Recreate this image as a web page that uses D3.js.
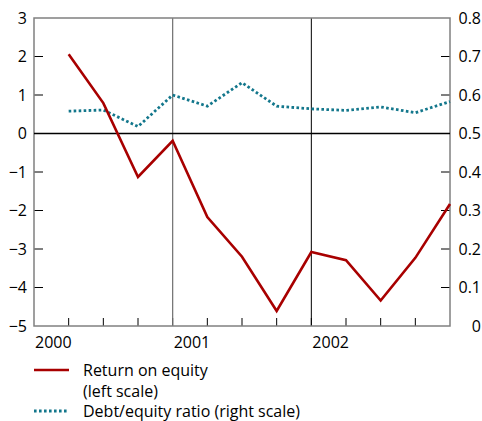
<!DOCTYPE html>
<html>
<head>
<meta charset="utf-8">
<script src="https://cdn.jsdelivr.net/npm/d3@7"></script>
<style>
  body { margin: 0; background: #fff; }
  svg { display: block; font-family: "Open Sans", sans-serif; }
</style>
</head>
<body>
<svg id="chart"></svg>
<script>
const quarters = ["2000Q1", "2000Q2", "2000Q3", "2000Q4", "2001Q1", "2001Q2", "2001Q3", "2001Q4", "2002Q1", "2002Q2", "2002Q3", "2002Q4"];
const returnOnEquity = [2.06, 0.79, -1.13, -0.19, -2.17, -3.2, -4.61, -3.08, -3.29, -4.34, -3.23, -1.83];
const debtEquity = [0.558, 0.561, 0.518, 0.6, 0.571, 0.632, 0.571, 0.564, 0.56, 0.569, 0.554, 0.583];
const years = ["2000", "2001", "2002"];
const leftTicks = [-5, -4, -3, -2, -1, 0, 1, 2, 3];
const rightTicks = [0, 0.1, 0.2, 0.3, 0.4, 0.5, 0.6, 0.7, 0.8];

const width = 482, height = 421;
const plotL = 34, plotR = 450, plotT = 18, plotB = 326;
const red = "#a80000", teal = "#13778c", grey = "#808080";

const svg = d3.select("#chart").attr("width", width).attr("height", height);

// quarter index -> x, the plot starts one quarter before the first point
const x = d3.scaleLinear().domain([-1, quarters.length - 1]).range([plotL, plotR]);
const yl = d3.scaleLinear().domain([-5, 3]).range([plotB, plotT]);
const yr = d3.scaleLinear().domain([0, 0.8]).range([plotB, plotT]);

const fmt = d => d < 0 ? "\u2212" + Math.abs(d) : String(d);

// inner ticks on left and right
svg.append("g").selectAll("line")
    .data(leftTicks.filter(d => d > -5 && d < 3))
    .join("line")
    .attr("x1", plotL).attr("x2", plotL + 9)
    .attr("y1", d => yl(d)).attr("y2", d => yl(d))
    .attr("stroke", "#000").attr("stroke-width", 1);

svg.append("g").selectAll("line")
    .data(rightTicks.filter(d => d > 0 && d < 0.8))
    .join("line")
    .attr("x1", plotR - 9).attr("x2", plotR)
    .attr("y1", d => yr(d)).attr("y2", d => yr(d))
    .attr("stroke", "#000").attr("stroke-width", 1);

// bottom quarter ticks
svg.append("g").selectAll("line")
    .data(d3.range(0, quarters.length - 1))
    .join("line")
    .attr("x1", d => x(d)).attr("x2", d => x(d))
    .attr("y1", plotB).attr("y2", plotB - 8)
    .attr("stroke", "#000").attr("stroke-width", 1);

// year dividers
svg.append("line")
    .attr("x1", x(3)).attr("x2", x(3)).attr("y1", plotT).attr("y2", plotB)
    .attr("stroke", "#6f6f6f").attr("stroke-width", 1.2);
svg.append("line")
    .attr("x1", x(7)).attr("x2", x(7)).attr("y1", plotT).attr("y2", plotB)
    .attr("stroke", "#000").attr("stroke-width", 1);

// frame
svg.append("rect")
    .attr("x", plotL).attr("y", plotT)
    .attr("width", plotR - plotL).attr("height", plotB - plotT)
    .attr("fill", "none").attr("stroke", grey).attr("stroke-width", 1.5);

// zero line
svg.append("line")
    .attr("x1", plotL).attr("x2", plotR)
    .attr("y1", yl(0)).attr("y2", yl(0))
    .attr("stroke", "#000").attr("stroke-width", 1.5);

// tick labels
svg.append("g").selectAll("text")
    .data(leftTicks)
    .join("text")
    .attr("x", 27).attr("y", d => yl(d))
    .attr("dy", "0.35em")
    .attr("text-anchor", "end")
    .style("font-size", "16px")
    .text(fmt);

svg.append("g").selectAll("text")
    .data(rightTicks)
    .join("text")
    .attr("x", 481).attr("y", d => yr(d))
    .attr("dy", "0.35em")
    .attr("text-anchor", "end")
    .style("font-size", "16px")
    .text(d => String(d));

svg.append("g").selectAll("text")
    .data(years)
    .join("text")
    .attr("x", (d, i) => x(i * 4 - 1) + 1)
    .attr("y", plotB + 16)
    .attr("dy", "0.35em")
    .style("font-size", "16px")
    .text(d => d);

// series
svg.append("path")
    .datum(debtEquity)
    .attr("d", d3.line((d, i) => x(i), d => yr(d)))
    .attr("fill", "none")
    .attr("stroke", teal)
    .attr("stroke-width", 2.8)
    .attr("stroke-dasharray", "2.6,2.4");

svg.append("path")
    .datum(returnOnEquity)
    .attr("d", d3.line((d, i) => x(i), d => yl(d)))
    .attr("fill", "none")
    .attr("stroke", red)
    .attr("stroke-width", 2.6)
    .attr("stroke-linejoin", "miter");

// legend
const legend = svg.append("g");
legend.append("line")
    .attr("x1", 34).attr("x2", 69).attr("y1", 370).attr("y2", 370)
    .attr("stroke", red).attr("stroke-width", 2.6);
legend.append("line")
    .attr("x1", 34).attr("x2", 69).attr("y1", 411).attr("y2", 411)
    .attr("stroke", teal).attr("stroke-width", 2.8)
    .attr("stroke-dasharray", "2.6,2.4");

const legendText = [
    { text: "Return on equity", y: 370 },
    { text: "(left scale)", y: 391 },
    { text: "Debt/equity ratio (right scale)", y: 411 }
];
legend.selectAll("text")
    .data(legendText)
    .join("text")
    .attr("x", 83).attr("y", d => d.y)
    .attr("dy", "0.35em")
    .style("font-size", "16px")
    .text(d => d.text);
</script>
</body>
</html>
